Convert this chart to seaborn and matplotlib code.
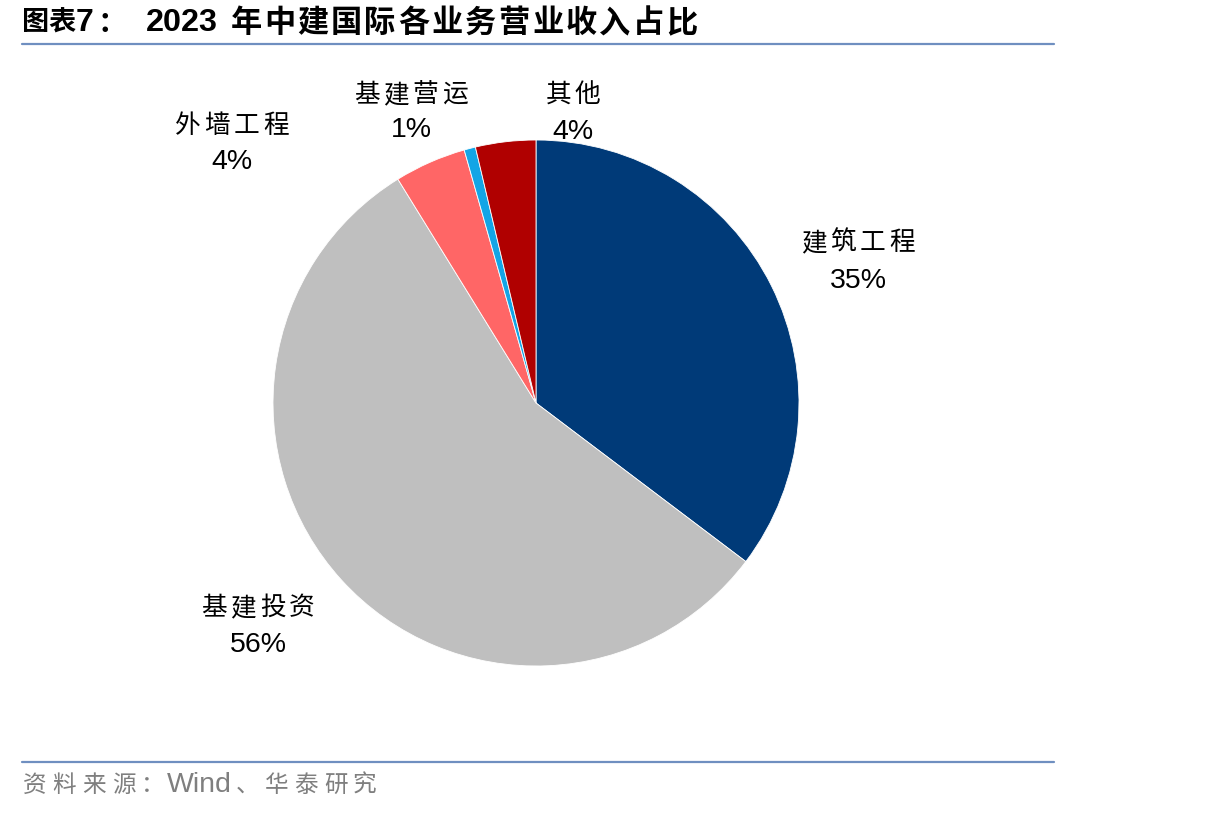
import matplotlib
matplotlib.use("Agg")
import matplotlib.pyplot as plt
from matplotlib.lines import Line2D
import seaborn as sns

# ---- data ----
categories = ["建筑工程", "基建投资", "外墙工程", "基建营运", "其他"]
shares = [35.3, 55.9, 4.4, 0.7, 3.7]
colors = ["#003A78", "#BFBFBF", "#FF6666", "#13A5E6", "#B00000"]
title_head = "图表"
title_num = "7"
title_year = "2023"
title_body = "年中建国际各业务营业收入占比"
source_a = "资料来源："
source_b = "Wind"
source_c = "、华泰研究"

# label centres in pixels (x, name line y, percent line y)
label_px = {
    "建筑工程": (858, 243, 281),
    "基建投资": (258, 608, 645),
    "外墙工程": (232, 126, 162),
    "基建营运": (411, 95, 130),
    "其他": (573, 95, 132),
}

sns.set_theme(style="white")
plt.rcParams['font.family'] = ['Noto Sans CJK SC', 'DejaVu Sans']

W, H = 1206, 816
fig = plt.figure(figsize=(W / 100, H / 100), dpi=100)
fig.patch.set_facecolor("white")

cx, cy, r = 536, 403, 263
ax = fig.add_axes([(cx - r) / W, 1 - (cy + r) / H, 2 * r / W, 2 * r / H])
ax.pie(shares, colors=colors, startangle=90, counterclock=False, radius=1,
       wedgeprops=dict(edgecolor="white", linewidth=0.6))
ax.set_xlim(-1, 1)
ax.set_ylim(-1, 1)
ax.set_aspect("equal")
ax.axis("off")


def fx(x):
    return x / W


def fy(y):
    return 1 - y / H


CJK = ['Noto Sans CJK SC', 'DejaVu Sans']
LAT = ['Liberation Sans', 'DejaVu Sans']


def cjk_run(text, first_center, y, advance, **kw):
    for i, ch in enumerate(text):
        fig.text(fx(first_center + i * advance), fy(y), ch, ha="center",
                 va="center", family=CJK, **kw)


def cjk_centered(text, center, y, advance, **kw):
    first = center - advance * (len(text) - 1) / 2
    cjk_run(text, first, y, advance, **kw)


for cat, v in zip(categories, shares):
    x, y1, y2 = label_px[cat]
    cjk_centered(cat, x, y1, 29.3, fontsize=18.5, color="black")
    fig.text(fx(x), fy(y2), f"{round(v)}%", ha="center", va="center",
             fontsize=20.5, color="black", family=LAT)

# title
ty = 23
fig.text(fx(22), fy(ty), title_head, ha="left", va="center", fontsize=19.5,
         fontweight="bold", color="black", family=CJK)
fig.text(fx(76), fy(ty), title_num, ha="left", va="center", fontsize=23,
         fontweight="bold", color="black", family=LAT)
fig.text(fx(112), fy(ty), "：", ha="center", va="center", fontsize=21,
         fontweight="bold", color="black", family=CJK)
fig.text(fx(146), fy(ty), title_year, ha="left", va="center", fontsize=23.3,
         fontweight="bold", color="black", family=LAT)
cjk_run(title_body, 246, ty, 33.5, fontsize=22.5, fontweight="bold", color="black")

# source
sy = 785
grey = "#7F7F7F"
cjk_run(source_a, 35, sy, 29.5, fontsize=17, color=grey)
fig.text(fx(167), fy(sy), source_b, ha="left", va="center", fontsize=20.5,
         color=grey, family=LAT)
cjk_run(source_c, 248, sy, 29.2, fontsize=17, color=grey)

line_color = "#6F8FC0"
fig.add_artist(Line2D([fx(22), fx(1054)], [fy(44), fy(44)], color=line_color, lw=1.6))
fig.add_artist(Line2D([fx(22), fx(1054)], [fy(762), fy(762)], color=line_color, lw=1.6))

fig.savefig("out.png", dpi=100, facecolor="white")
